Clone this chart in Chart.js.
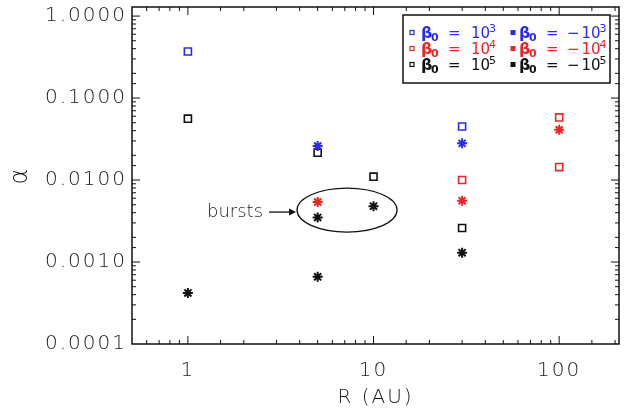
<!DOCTYPE html>
<html>
<head>
<meta charset="utf-8">
<script src="https://cdn.jsdelivr.net/npm/chart.js@4.4.0/dist/chart.umd.min.js"></script>
<style>
html,body{margin:0;padding:0;background:#fff}
#wrap{width:626px;height:414px}
</style>
</head>
<body>
<div id="wrap"><canvas id="myChart" width="626" height="414"></canvas></div>
<script>
// R (AU) and alpha for each beta_0 run
const rPos3=[1,30]
const alphaPos3=[0.37,0.045]
const rNeg3=[5,30]
const alphaNeg3=[0.026,0.028]
const rPos4=[30,100,100]
const alphaPos4=[0.010,0.058,0.0144]
const rNeg4=[5,30,100]
const alphaNeg4=[0.0054,0.0056,0.041]
const rPos5=[1,5,10,30]
const alphaPos5=[0.056,0.0215,0.011,0.0026]
const rNeg5=[1,5,5,10,30]
const alphaNeg5=[0.00042,0.0035,0.00066,0.0048,0.0013]

const legendSigns=['','\u2212']
const legendExps=['3','4','5']
const burstsLabel='bursts'
const burstsR=7.2
const burstsAlpha=0.0043

const BLUE='#2b2bee'
const RED='#ee2424'
const BLACK='#111111'
const FONT='DejaVu Sans'

function isDecade(v){
  const l=Math.log10(v)
  return Math.abs(l-Math.round(l))<1e-6
}

function makeSet(label,xs,ys,color,style){
  const open=style==='rect'
  return {
    label,
    data:xs.map((x,i)=>({x,y:ys[i]})),
    pointStyle:style,
    borderColor:color,
    backgroundColor:open?'rgba(0,0,0,0)':color,
    pointRadius:5,
    pointHoverRadius:5,
    pointBorderWidth:open?1.6:2,
    showLine:false
  }
}

// box with inward ticks, legend and the bursts note
const framePlugin={
  id:'frame',
  beforeDraw(chart){
    chart.ctx.letterSpacing='2px'
  },
  afterDatasetsDraw(chart){
    const ctx=chart.ctx
    const a=chart.chartArea
    const xs=chart.scales.x, ys=chart.scales.y
    ctx.save()
    ctx.letterSpacing='0px'
    ctx.strokeStyle=BLACK
    ctx.lineWidth=1.5
    ctx.strokeRect(a.left,a.top,a.right-a.left,a.bottom-a.top)
    ctx.lineWidth=1
    xs.ticks.forEach(t=>{
      const px=xs.getPixelForValue(t.value)
      if(px<=a.left+1||px>=a.right-1) return
      const len=isDecade(t.value)?8:4
      ctx.beginPath()
      ctx.moveTo(px,a.bottom);ctx.lineTo(px,a.bottom-len)
      ctx.moveTo(px,a.top);ctx.lineTo(px,a.top+len)
      ctx.stroke()
    })
    ys.ticks.forEach(t=>{
      const py=ys.getPixelForValue(t.value)
      if(py<=a.top+1||py>=a.bottom-1) return
      const len=isDecade(t.value)?8:4
      ctx.beginPath()
      ctx.moveTo(a.left,py);ctx.lineTo(a.left+len,py)
      ctx.moveTo(a.right,py);ctx.lineTo(a.right-len,py)
      ctx.stroke()
    })

    // legend
    const lx=403, ly=15, lw=207, lh=68
    ctx.fillStyle='#fff'
    ctx.fillRect(lx,ly,lw,lh)
    ctx.lineWidth=1.5
    ctx.strokeRect(lx,ly,lw,lh)
    const colors=[BLUE,RED,BLACK]
    legendExps.forEach((ex,row)=>{
      const base=37.5+row*16
      legendSigns.forEach((sg,col)=>{
        const mx=col===0?412:513
        const tx=col===0?421:519
        const c=colors[row]
        ctx.fillStyle=c
        ctx.strokeStyle=c
        if(col===0){
          ctx.lineWidth=1.2
          ctx.strokeRect(mx-2,base-7,4,4)
        }else{
          ctx.fillRect(mx-2.5,base-7.5,5,5)
        }
        ctx.textBaseline='alphabetic'
        ctx.textAlign='left'
        ctx.font='bold 16px "'+FONT+'"'
        ctx.fillText('\u03b2',tx,base)
        ctx.font='bold 11px "'+FONT+'"'
        ctx.fillText('0',tx+10,base+3)
        ctx.font='15px "'+FONT+'"'
        ctx.fillText('=',tx+27,base)
        let nx=tx+50
        if(sg){
          ctx.fillText(sg,tx+48,base)
          nx=tx+62.5
        }
        ctx.fillText('10',nx,base)
        ctx.font='11px "'+FONT+'"'
        ctx.fillText(ex,nx+18,base-6)
      })
    })

    // bursts ellipse, arrow and label
    const cx=xs.getPixelForValue(burstsR)
    const cy=ys.getPixelForValue(burstsAlpha)
    ctx.strokeStyle=BLACK
    ctx.fillStyle=BLACK
    ctx.lineWidth=1.3
    ctx.beginPath()
    ctx.ellipse(cx,cy,50,22,0,0,Math.PI*2)
    ctx.stroke()
    const ay=cy+2
    ctx.beginPath()
    ctx.moveTo(cx-78,ay);ctx.lineTo(cx-57,ay)
    ctx.stroke()
    ctx.beginPath()
    ctx.moveTo(cx-51,ay);ctx.lineTo(cx-58,ay-3.5);ctx.lineTo(cx-58,ay+3.5)
    ctx.closePath();ctx.fill()
    ctx.font='300 18px "'+FONT+'"'
    ctx.textAlign='right'
    ctx.textBaseline='middle'
    ctx.fillStyle='#222'
    ctx.fillText(burstsLabel,cx-84,ay)
    ctx.restore()
  }
}

const tickFont={family:FONT,size:20,weight:'300'}

const ctx=document.getElementById('myChart').getContext('2d')
const chart=new Chart(ctx,{
  type:'scatter',
  data:{
    datasets:[
      makeSet('beta0 = -10^3',rNeg3,alphaNeg3,BLUE,'star'),
      makeSet('beta0 = 10^3',rPos3,alphaPos3,BLUE,'rect'),
      makeSet('beta0 = -10^4',rNeg4,alphaNeg4,RED,'star'),
      makeSet('beta0 = 10^4',rPos4,alphaPos4,RED,'rect'),
      makeSet('beta0 = 10^5',rPos5,alphaPos5,BLACK,'rect'),
      makeSet('beta0 = -10^5',rNeg5,alphaNeg5,BLACK,'star')
    ]
  },
  options:{
    responsive:false,
    animation:false,
    devicePixelRatio:1,
    layout:{padding:{top:5,right:7,left:0,bottom:0}},
    plugins:{legend:{display:false},tooltip:{enabled:false}},
    scales:{
      x:{
        type:'logarithmic',
        position:'bottom',
        min:0.5,
        max:210,
        grid:{display:false,drawTicks:false},
        border:{display:false},
        ticks:{
          autoSkip:false,
          maxRotation:0,
          padding:15,
          color:'#1a1a1a',
          font:tickFont,
          callback:v=>isDecade(v)?String(Math.round(v)):''
        },
        title:{display:true,text:'R (AU)',color:'#1a1a1a',font:tickFont,padding:{top:0,bottom:4}},
        afterFit:s=>{s.height=70;s.paddingLeft=0;s.paddingRight=0}
      },
      y:{
        type:'logarithmic',
        position:'left',
        min:0.0001,
        max:1.29,
        grid:{display:false,drawTicks:false},
        border:{display:false},
        ticks:{
          autoSkip:false,
          padding:5,
          color:'#1a1a1a',
          font:tickFont,
          callback:v=>isDecade(v)?v.toFixed(4):''
        },
        title:{display:true,text:'\u03b1',color:'#1a1a1a',font:{family:FONT,size:24,weight:'300'},padding:{top:6,bottom:0}},
        afterFit:s=>{s.width=132;s.paddingTop=0;s.paddingBottom=0}
      }
    }
  },
  plugins:[framePlugin]
})
</script>
</body>
</html>
